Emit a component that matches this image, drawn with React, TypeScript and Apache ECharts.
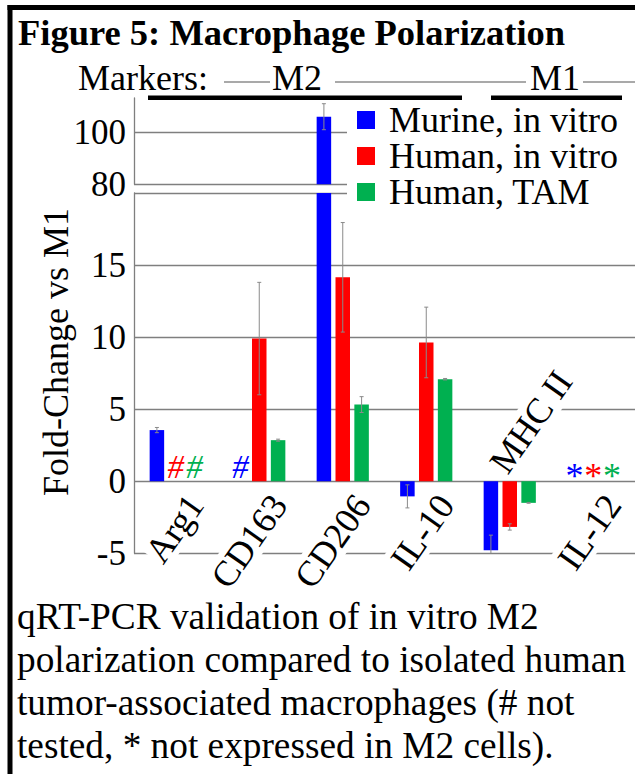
import React, { useEffect, useRef } from 'react';
import * as echarts from 'echarts';

// ---------- data ----------
const categories = ['Arg1', 'CD163', 'CD206', 'IL-10', 'MHC II', 'IL-12'];
const seriesNames = ['Murine, in vitro', 'Human, in vitro', 'Human, TAM'];
const murine = [3.55, null, 106, -1.05, -4.79, null];
const murineErr = [0.18, null, 5.0, 0.8, 1.05, null];
const human = [null, 9.9, 14.15, 9.63, -3.17, null];
const humanErr = [null, 3.9, 3.8, 2.45, 0.22, null];
const tam = [null, 2.85, 5.32, 7.08, -1.5, null];
const tamErr = [null, 0.07, 0.55, 0.05, 0.03, null];
// [categoryIndex, seriesIndex]
const notTested = [[0, 1], [0, 2], [1, 0]];
const notExpressed = [[5, 0], [5, 1], [5, 2]];
// categories whose label sits above the zero line
const labelsAbove = ['MHC II'];
const upperTicks = { min: 80, max: 113.2, interval: 20 };
const lowerTicks = { min: -5, max: 20, interval: 5 };
const titleText = 'Figure 5: Macrophage Polarization';
const yTitle = 'Fold-Change vs M1';
const captionLines = [
  'qRT-PCR validation of in vitro M2',
  'polarization compared to isolated human',
  'tumor-associated macrophages (# not',
  'tested, * not expressed in M2 cells).',
];

// ---------- style ----------
const FONT = "'Liberation Serif', 'Times New Roman', 'DejaVu Serif', serif";
const GRAY = '#7f7f7f';
const ERR = '#8a8a8a';
const COLORS = ['#0000ff', '#ff0000', '#00b050'];
const BAR_W = 14.5;
const BAR_GAP = 0.3;
const PITCH = BAR_W * (1 + BAR_GAP);
const LABEL_ROT = (55 * Math.PI) / 180;

const values = [murine, human, tam];
const errs = [murineErr, humanErr, tamErr];

function buildOption() {
  const grids = [
    { left: 134, top: 98, width: 504, height: 86.3 },
    { left: 134, top: 193, width: 504, height: 360.3 },
  ];
  const ranges = [upperTicks, lowerTicks];

  const errData: number[][] = [];
  values.forEach((vals, s) => {
    vals.forEach((v, i) => {
      const e = errs[s][i];
      if (v != null && e != null && e > 0) errData.push([i, v as number, e as number, s]);
    });
  });

  const makeErrRender = (range: { min: number; max: number }) => (params: any, api: any) => {
    const ci = api.value(0);
    const v = api.value(1);
    const e = api.value(2);
    const si = api.value(3);
    const hi = v + e;
    const lo = v - e;
    if (lo >= range.max || hi <= range.min) return null;
    const pHi = api.coord([ci, Math.min(hi, range.max)]);
    const pLo = api.coord([ci, Math.max(lo, range.min)]);
    const x = pHi[0] + (si - 1) * PITCH;
    const children: any[] = [
      { type: 'line', shape: { x1: x, y1: pHi[1], x2: x, y2: pLo[1] }, style: { stroke: ERR, lineWidth: 1 } },
    ];
    if (hi <= range.max)
      children.push({ type: 'line', shape: { x1: x - 2, y1: pHi[1], x2: x + 2, y2: pHi[1] }, style: { stroke: ERR, lineWidth: 1 } });
    if (lo >= range.min)
      children.push({ type: 'line', shape: { x1: x - 2, y1: pLo[1], x2: x + 2, y2: pLo[1] }, style: { stroke: ERR, lineWidth: 1 } });
    return { type: 'group', children };
  };

  const series: any[] = [];
  [0, 1].forEach((g) => {
    values.forEach((vals, s) => {
      series.push({
        type: 'bar',
        name: seriesNames[s],
        xAxisIndex: g,
        yAxisIndex: g,
        data: vals,
        barWidth: BAR_W,
        barGap: BAR_GAP * 100 + '%',
        itemStyle: { color: COLORS[s] },
        clip: true,
        silent: true,
        z: 2,
      });
    });
    series.push({
      type: 'custom',
      name: 'err' + g,
      xAxisIndex: g,
      yAxisIndex: g,
      data: errData,
      encode: { x: 0, y: 1 },
      renderItem: makeErrRender(ranges[g]),
      silent: true,
      z: 3,
    });
  });

  const markData = [
    ...notTested.map((d) => [d[0], d[1], 0]),
    ...notExpressed.map((d) => [d[0], d[1], 1]),
  ];
  series.push({
    type: 'custom',
    name: 'marks',
    xAxisIndex: 1,
    yAxisIndex: 1,
    data: markData,
    encode: { x: 0, y: 2 },
    silent: true,
    z: 4,
    renderItem: (params: any, api: any) => {
      const ci = api.value(0);
      const si = api.value(1);
      const kind = api.value(2);
      const p = api.coord([ci, 0]);
      const x = p[0] + (si - 1) * PITCH;
      if (kind === 0) {
        return {
          type: 'text',
          x,
          y: p[1] - 14,
          style: { text: '#', fontFamily: FONT, fontStyle: 'italic', fontSize: 33, fill: COLORS[si], align: 'center', verticalAlign: 'middle' },
        };
      }
      return {
        type: 'text',
        x,
        y: p[1] - 5,
        style: { text: '*', fontFamily: FONT, fontSize: 36, fill: COLORS[si], align: 'center', verticalAlign: 'middle' },
      };
    },
  });

  // category labels, hung from the zero line (rotated)
  series.push({
    type: 'custom',
    name: 'catLabels',
    xAxisIndex: 1,
    yAxisIndex: 1,
    data: categories.map((c, i) => [i, 0]),
    encode: { x: 0, y: 1 },
    silent: true,
    z: 1,
    renderItem: (params: any, api: any) => {
      const ci = api.value(0);
      const name = categories[ci];
      const p = api.coord([ci, 0]);
      const above = labelsAbove.indexOf(name) >= 0;
      return {
        type: 'text',
        x: above ? p[0] + 3 : p[0] + 5,
        y: above ? p[1] - 2 : p[1] + 7,
        rotation: LABEL_ROT,
        style: {
          text: name,
          fontFamily: FONT,
          fontSize: 36,
          fill: '#000',
          align: above ? 'left' : 'right',
          verticalAlign: above ? 'bottom' : 'top',
          backgroundColor: '#fff',
        },
      };
    },
  });

  const yAxisCommon = (g: number) => ({
    type: 'value',
    gridIndex: g,
    min: ranges[g].min,
    max: ranges[g].max,
    interval: ranges[g].interval,
    axisLine: { show: true, lineStyle: { color: GRAY, width: 1.3 } },
    axisTick: { show: false },
    axisLabel: {
      fontFamily: FONT,
      fontSize: 35,
      color: '#000',
      margin: 8,
      showMaxLabel: false,
    },
    splitLine: {
      show: true,
      showMaxLine: g === 1,
      lineStyle: { color: GRAY, width: 1.3 },
    },
  });

  const graphic: any[] = [
    { type: 'line', z: 20, shape: { x1: 10, y1: 5, x2: 10, y2: 774 }, style: { stroke: '#000', lineWidth: 5 } },
    { type: 'line', z: 20, shape: { x1: 7.5, y1: 7.5, x2: 640, y2: 7.5 }, style: { stroke: '#000', lineWidth: 5 } },
    {
      type: 'text', z: 20, x: 18, y: 45 - 12.3,
      style: { text: titleText, fontFamily: FONT, fontWeight: 'bold', fontSize: 36.5, fill: '#000', align: 'left', verticalAlign: 'middle' },
    },
    {
      type: 'text', z: 20, x: 78, y: 90 - 12.2,
      style: { text: 'Markers:', fontFamily: FONT, fontSize: 36, fill: '#000', align: 'left', verticalAlign: 'middle' },
    },
    { type: 'line', z: 20, shape: { x1: 224, y1: 82, x2: 270, y2: 82 }, style: { stroke: '#555', lineWidth: 1.2 } },
    {
      type: 'text', z: 20, x: 272, y: 90 - 12.2,
      style: { text: 'M2', fontFamily: FONT, fontSize: 36, fill: '#000', align: 'left', verticalAlign: 'middle' },
    },
    { type: 'line', z: 20, shape: { x1: 335, y1: 82, x2: 526, y2: 82 }, style: { stroke: '#555', lineWidth: 1.2 } },
    {
      type: 'text', z: 20, x: 530, y: 90 - 12.2,
      style: { text: 'M1', fontFamily: FONT, fontSize: 36, fill: '#000', align: 'left', verticalAlign: 'middle' },
    },
    { type: 'line', z: 20, shape: { x1: 583, y1: 82, x2: 640, y2: 82 }, style: { stroke: '#555', lineWidth: 1.2 } },
    { type: 'line', z: 20, shape: { x1: 148, y1: 97.8, x2: 462, y2: 97.8 }, style: { stroke: '#000', lineWidth: 4.5 } },
    { type: 'line', z: 20, shape: { x1: 491, y1: 97.8, x2: 622, y2: 97.8 }, style: { stroke: '#000', lineWidth: 4.5 } },
    {
      type: 'text', z: 20, x: 55.5, y: 352, rotation: Math.PI / 2,
      style: { text: yTitle, fontFamily: FONT, fontSize: 36, fill: '#000', align: 'center', verticalAlign: 'middle' },
    },
    ...captionLines.map((t, i) => ({
      type: 'text', z: 20, x: 17, y: 629 + i * 43 - 12.5,
      style: { text: t, fontFamily: FONT, fontSize: 37.3, fill: '#000', align: 'left', verticalAlign: 'middle' },
    })),
  ];

  return {
    animation: false,
    backgroundColor: '#fff',
    textStyle: { fontFamily: FONT },
    grid: grids,
    legend: {
      data: seriesNames,
      orient: 'vertical',
      left: 347,
      top: 98,
      padding: [4, 40, 8, 10],
      backgroundColor: '#fff',
      itemWidth: 18,
      itemHeight: 18,
      itemGap: 0,
      icon: 'rect',
      selectedMode: false,
      z: 6,
      textStyle: { fontFamily: FONT, fontSize: 36, color: '#000', lineHeight: 36, padding: [0, 0, 0, 9] },
    },
    xAxis: [
      { type: 'category', gridIndex: 0, data: categories, show: false },
      {
        type: 'category',
        gridIndex: 1,
        data: categories,
        axisLine: { show: false },
        axisTick: { show: false },
        axisLabel: { show: false },
        splitLine: { show: false },
      },
    ],
    yAxis: [yAxisCommon(0), yAxisCommon(1)],
    series,
    graphic,
  };
}

export default function App() {
  const ref = useRef<HTMLDivElement>(null);
  useEffect(() => {
    if (!ref.current) return;
    const chart = echarts.init(ref.current, null, { renderer: 'svg' });
    chart.setOption(buildOption() as any);
    return () => chart.dispose();
  }, []);
  return (
    <div
      ref={ref}
      style={{ position: 'absolute', left: 0, top: 0, width: 635, height: 774, background: '#fff' }}
    />
  );
}
